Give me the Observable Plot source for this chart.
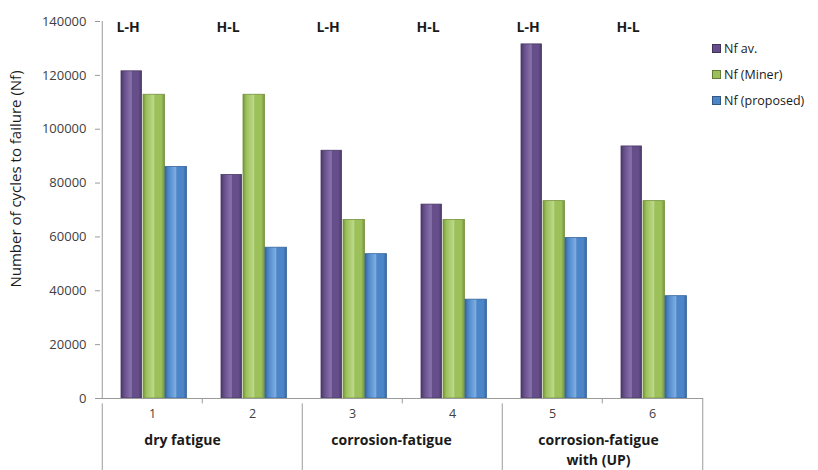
<!DOCTYPE html>
<html>
<head>
<meta charset="utf-8">
<script src="https://cdn.jsdelivr.net/npm/d3@7"></script>
<script src="https://cdn.jsdelivr.net/npm/@observablehq/plot@0.6"></script>
<style>
  html, body { margin: 0; padding: 0; background: #fff; }
  #wrap { position: relative; width: 818px; height: 470px; font-family: "Open Sans", sans-serif; }
  #legend { position: absolute; left: 712px; top: 35px; font-size: 12.5px; color: #1a1a1a; }
  #legend .row { display: flex; align-items: center; height: 26px; }
  #legend .sw { width: 7px; height: 7px; margin-right: 3px; border: 1px solid rgba(0,0,0,0.35); }
</style>
</head>
<body>
<div id="wrap"><div id="legend"></div></div>
<script>
const categories = ["1", "2", "3", "4", "5", "6"];
const sequenceLabels = ["L-H", "H-L", "L-H", "H-L", "L-H", "H-L"];
const nfAv = [121500, 83000, 92000, 72000, 131500, 93600];
const nfMiner = [112800, 112800, 66300, 66300, 73300, 73300];
const nfProposed = [86000, 56000, 53600, 36700, 59600, 38000];
const seriesNames = ["Nf av.", "Nf (Miner)", "Nf (proposed)"];
const groupLabels = ["dry fatigue", "corrosion-fatigue", "corrosion-fatigue\nwith (UP)"];
const groupStarts = ["1", "3", "5"];
const yTicks = [0, 20000, 40000, 60000, 80000, 100000, 120000, 140000];

const colors = ["#664e8a", "#9cc05a", "#4d86c8"];
const darks = ["#4a3866", "#76923f", "#36659c"];
const lights = ["#8a74ad", "#bcd98a", "#7eaee3"];

const rows = categories.map((c, i) => ({cat: c, seq: sequenceLabels[i], av: nfAv[i], miner: nfMiner[i], proposed: nfProposed[i]}));
const keys = ["av", "miner", "proposed"];
const insets = [[19, 60.5], [41, 37.5], [63, 15.5]];
const half = 50.25;

const plot = Plot.plot({
  width: 818,
  height: 470,
  marginLeft: 100,
  marginRight: 115,
  marginTop: 21,
  marginBottom: 72,
  style: {fontFamily: "Open Sans, sans-serif", fontSize: "13px", color: "#404040", background: "transparent"},
  x: {type: "band", domain: categories, padding: 0, axis: null},
  y: {domain: [0, 140000], ticks: yTicks, tickFormat: d => String(d), tickSize: 5, tickPadding: 9, label: null},
  marks: [
    ...keys.map((k, j) => Plot.barY(rows, {
      x: "cat", y: k, fill: `url(#grad${j})`, stroke: darks[j], strokeWidth: 0.8,
      insetLeft: insets[j][0], insetRight: insets[j][1]
    })),
    // axis lines
    Plot.ruleY([0], {stroke: "#9a9a9a"}),
    Plot.ruleX(["1"], {x: d => d, y1: 0, y2: 140000, dx: -half, stroke: "#9a9a9a"}),
    // category boundary ticks and group separators
    Plot.ruleX(["2", "4", "6"], {x: d => d, y1: 0, y2: -2000, dx: -half, stroke: "#9a9a9a"}),
    Plot.ruleX(groupStarts, {x: d => d, y1: -2000, y2: -27000, dx: -half, stroke: "#9a9a9a"}),
    Plot.ruleX(["6"], {x: d => d, y1: 0, y2: -27000, dx: half, stroke: "#9a9a9a"}),
    // category numbers
    Plot.text(categories, {x: d => d, frameAnchor: "bottom", dy: 19, fontSize: 12.5, fill: "#404040"}),
    // group labels
    ...groupLabels.map((g, i) => Plot.text([g], {
      x: () => groupStarts[i], frameAnchor: "bottom", dy: 32, dx: [30, 39, 46][i], textAnchor: "middle",
      lineAnchor: "top", lineHeight: 1.45, fontSize: 14, fontWeight: "bold", fill: "#1a1a1a"
    })),
    // L-H / H-L
    Plot.text(rows, {x: "cat", text: "seq", frameAnchor: "top", dy: 1, dx: -36, textAnchor: "start", fontSize: 14, fontWeight: "bold", fill: "#1a1a1a"}),
    // y label
    Plot.text(["Number of cycles to failure (Nf)"], {frameAnchor: "left", textAnchor: "middle", rotate: -90, dx: -84, dy: -31, fontSize: 15, fill: "#1a1a1a"})
  ]
});

const svg = d3.select(plot);
const defs = svg.insert("defs", ":first-child");
colors.forEach((c, j) => {
  const g = defs.append("linearGradient").attr("id", `grad${j}`).attr("x1", "0").attr("x2", "1").attr("y1", "0").attr("y2", "0");
  g.append("stop").attr("offset", "0").attr("stop-color", darks[j]);
  g.append("stop").attr("offset", "0.15").attr("stop-color", c);
  g.append("stop").attr("offset", "0.5").attr("stop-color", lights[j]);
  g.append("stop").attr("offset", "0.55").attr("stop-color", c);
  g.append("stop").attr("offset", "0.85").attr("stop-color", c);
  g.append("stop").attr("offset", "1").attr("stop-color", darks[j]);
});
svg.select("[aria-label='y-axis tick']").attr("stroke", "#9a9a9a");

document.getElementById("wrap").prepend(plot);

const legend = d3.select("#legend");
seriesNames.forEach((s, j) => {
  const r = legend.append("div").attr("class", "row");
  r.append("div").attr("class", "sw").style("background", colors[j]);
  r.append("span").text(s);
});
</script>
</body>
</html>
